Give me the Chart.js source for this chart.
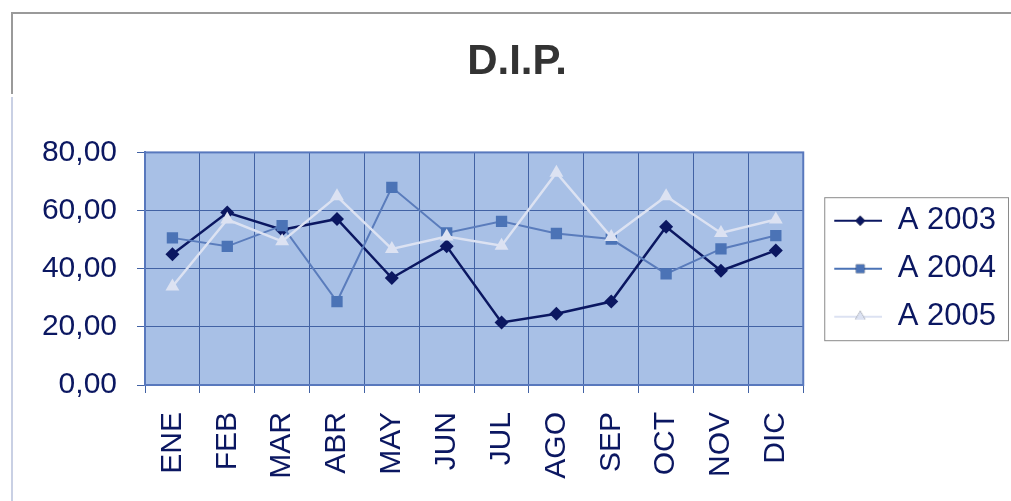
<!DOCTYPE html>
<html>
<head>
<meta charset="utf-8">
<script src="https://cdn.jsdelivr.net/npm/chart.js@4.4.0/dist/chart.umd.min.js"></script>
<style>
  html, body { margin: 0; padding: 0; background: #fff; }
  #wrap { position: relative; width: 1011px; height: 501px; }
</style>
</head>
<body>
<div id="wrap"><canvas id="myChart" width="1011" height="501"></canvas></div>
<script>
// data
var months = ['ENE','FEB','MAR','ABR','MAY','JUN','JUL','AGO','SEP','OCT','NOV','DIC'];
var a2003 = [45.0, 59.3, 53.4, 57.1, 36.8, 47.7, 21.5, 24.5, 28.7, 54.4, 39.3, 46.3];
var a2004 = [50.6, 47.7, 54.8, 28.7, 68.0, 52.3, 56.3, 52.1, 50.2, 38.2, 46.8, 51.4];
var a2005 = [33.9, 56.9, 49.4, 64.9, 46.8, 51.1, 47.9, 73.0, 50.9, 64.9, 52.3, 56.9];
var yTickLabels = ['0,00','20,00','40,00','60,00','80,00'];

var navy = '#0b1761';
var mid = '#4b73b6';
var light = '#dce2f2';

// little line+marker picture for each legend entry
function legendSample(color, style, r) {
  var c = document.createElement('canvas');
  c.width = 62; c.height = 20;
  var g = c.getContext('2d');
  g.strokeStyle = color; g.lineWidth = 2;
  g.beginPath(); g.moveTo(14, 10); g.lineTo(62, 10); g.stroke();
  Chart.helpers.drawPoint(g, {pointStyle: style, radius: r, borderWidth: 0, rotation: 0}, 40, 10);
  g.fillStyle = color; g.fill();
  return c;
}

var plotBg = {
  id: 'plotBg',
  beforeDraw: function(chart) {
    var ctx = chart.ctx, a = chart.chartArea;
    ctx.save();
    // outer frame of the sheet
    ctx.strokeStyle = '#9a9a9a'; ctx.lineWidth = 2;
    ctx.beginPath(); ctx.moveTo(12, 94); ctx.lineTo(12, 13); ctx.lineTo(1011, 13); ctx.stroke();
    ctx.strokeStyle = '#c9d0e4';
    ctx.beginPath(); ctx.moveTo(12, 97); ctx.lineTo(12, 501); ctx.stroke();
    ctx.fillStyle = '#a8c0e6';
    ctx.fillRect(a.left, a.top, a.right - a.left, a.bottom - a.top);
    ctx.restore();
  },
  afterDraw: function(chart) {
    var ctx = chart.ctx, a = chart.chartArea;
    ctx.save();
    ctx.strokeStyle = '#5878bd'; ctx.lineWidth = 2;
    ctx.strokeRect(a.left, a.top, a.right - a.left, a.bottom - a.top);
    var hb = chart.legend.legendHitBoxes;
    if (hb && hb.length) {
      var l = hb[0].left + 4, t = hb[0].top - 8;
      var last = hb[hb.length - 1];
      var r = 1008;
      var b = last.top + last.height + 8;
      ctx.strokeStyle = '#8a8a8a'; ctx.lineWidth = 1;
      ctx.strokeRect(l + 0.5, t + 0.5, r - l, b - t);
    }
    ctx.restore();
  }
};

var ctx = document.getElementById('myChart').getContext('2d');
var myChart = new Chart(ctx, {
  type: 'line',
  data: {
    labels: months,
    datasets: [
      {label: 'A 2003', data: a2003, order: 3, borderColor: navy, backgroundColor: navy,
       borderWidth: 2.5, pointStyle: 'rectRot', pointRadius: 7, pointBorderWidth: 0, tension: 0},
      {label: 'A 2004', data: a2004, order: 2, borderColor: '#5a7cbc', backgroundColor: mid,
       borderWidth: 2, pointStyle: 'rect', pointRadius: 8, pointBorderWidth: 0, tension: 0},
      {label: 'A 2005', data: a2005, order: 1, borderColor: light, backgroundColor: light,
       borderWidth: 2.5, pointStyle: 'triangle', pointRadius: 8, pointBorderWidth: 0, tension: 0}
    ]
  },
  options: {
    responsive: false,
    animation: false,
    layout: {padding: {left: 28, right: 5, top: 0, bottom: 0}},
    plugins: {
      title: {
        display: true, text: 'D.I.P.', color: '#333333',
        font: {family: 'Liberation Sans', size: 42, weight: 'bold'},
        padding: {top: 37, bottom: 65}
      },
      legend: {
        position: 'right', fullSize: false,
        labels: {
          usePointStyle: true, pointStyleWidth: 62, padding: 17, color: navy,
          font: {family: 'Liberation Sans', size: 31},
          generateLabels: function(chart) {
            var samples = [
              legendSample(navy, 'rectRot', 5),
              legendSample(mid, 'rect', 6),
              legendSample(light, 'triangle', 6)
            ];
            return chart.data.datasets.map(function(ds, i) {
              return {text: ds.label, pointStyle: samples[i], fontColor: navy,
                      lineWidth: 0, strokeStyle: 'transparent', fillStyle: 'transparent', datasetIndex: i};
            });
          }
        }
      },
      tooltip: {enabled: false}
    },
    scales: {
      x: {
        offset: true,
        grid: {color: '#4262a4', lineWidth: 1, tickLength: 8, offset: true},
        border: {color: '#5878bd', width: 2},
        ticks: {color: navy, minRotation: 90, maxRotation: 90, padding: 19,
                font: {family: 'Liberation Sans', size: 30}},
        afterFit: function(s) { s.height = 116; }
      },
      y: {
        min: 0, max: 80,
        grid: {color: '#4262a4', lineWidth: 1, tickLength: 8},
        border: {color: '#5878bd', width: 2},
        ticks: {stepSize: 20, color: navy, padding: 20,
                font: {family: 'Liberation Sans', size: 30},
                callback: function(v, i) { return yTickLabels[i]; }},
        afterFit: function(s) { s.width = 117; }
      }
    }
  },
  plugins: [plotBg]
});
</script>
</body>
</html>
